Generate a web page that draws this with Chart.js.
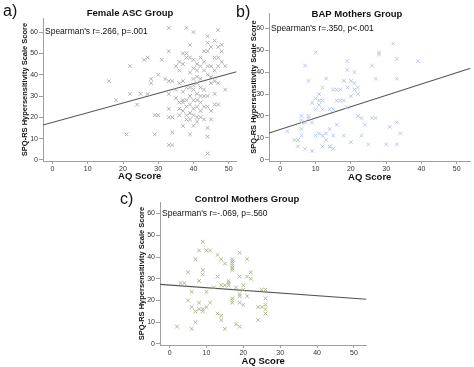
<!DOCTYPE html>
<html><head><meta charset="utf-8">
<script src="https://cdn.jsdelivr.net/npm/chart.js@4/dist/chart.umd.min.js"></script>
<style>
html,body{margin:0;padding:0;background:#fff;width:474px;height:367px;overflow:hidden}
canvas{position:absolute}
</style></head><body>
<canvas id="ca" width="240" height="186" style="left:0px;top:0px"></canvas>
<canvas id="cb" width="240" height="186" style="left:234px;top:0px"></canvas>
<canvas id="cc" width="260" height="181" style="left:110px;top:186px"></canvas>
<script>
// ---- data ----
const xTicks = [0, 10, 20, 30, 40, 50];
const yTicks = [0, 10, 20, 30, 40, 50, 60];

const ascAQ  = [16,18,22,21,22,24,25,26,27,27,28,28,29,29,30,30,31,33,33,32,33,33,33,34,33,34,34,34,33,36,36,36,36,36,37,37,37,37,37,37,37,38,38,38,38,38,38,38,38,39,39,39,39,39,39,39,39,39,40,40,40,40,40,40,40,40,40,41,41,41,41,41,41,41,41,41,42,42,42,42,42,42,42,42,43,43,43,43,43,43,43,44,44,44,44,44,44,44,44,44,44,45,45,45,45,45,45,46,46,46,46,46,46,47,47,47,47,47,47,48,48,48,49,49,35,35,35,36,37,40];
const ascSPQ = [37,28,31,12,44,26,31,47,48,31,38,36,12,21,21,40,47,62,51,38,37,24,20,20,7,7,37,13,31,46,42,27,24,21,50,37,32,28,27,23,16,62,50,48,34,28,25,21,19,54,48,41,34,30,26,22,19,12,60,47,43,38,33,28,24,21,16,45,42,39,36,31,28,25,20,18,48,44,38,34,30,27,23,20,51,46,42,33,30,25,19,58,55,51,44,40,30,25,15,11,3,53,44,39,36,23,19,56,48,42,37,31,26,61,53,48,44,36,26,54,51,46,44,33,44,33,29,36,45,35];

const bapAQ  = [2,4,5,5,6,6,6,6,6,7,7,7,8,8,8,9,9,9,10,10,10,10,11,11,11,11,12,12,12,12,12,13,13,13,14,14,14,14,15,15,15,15,16,16,16,17,17,18,18,18,19,19,19,19,20,20,20,21,21,21,22,22,22,23,23,24,25,26,26,27,27,28,28,30,31,32,33,33,33,33,34,39];
const bapSPQ = [13,9,9,6,11,18,17,14,20,5,43,17,19,36,20,4,26,17,49,11,28,23,27,30,25,12,33,6,23,11,27,37,9,12,6,14,23,6,32,11,5,23,27,16,32,32,27,11,36,27,41,24,33,45,36,8,29,40,32,35,30,20,33,19,11,16,7,43,19,19,37,48,49,7,15,53,17,46,37,7,12,45];

const ctlAQ  = [2,3,4,5,5,6,6,6,7,7,7,8,8,8,8,9,9,9,9,9,10,10,10,11,11,12,13,13,13,14,14,14,14,15,15,15,16,16,16,17,17,17,17,17,17,17,17,17,18,18,19,19,19,19,19,19,20,20,20,21,21,21,22,22,24,24,25,25,26,26,26,26,26];
const ctlSPQ = [8,28,28,20,33,7,24,17,10,15,39,43,16,19,29,16,32,34,15,47,24,43,17,19,43,26,41,14,31,39,13,27,11,27,7,37,28,27,29,39,38,37,36,35,34,21,20,19,9,26,31,8,42,23,22,19,25,27,18,39,22,31,33,30,11,17,17,25,25,18,16,14,21];

// regression line endpoints [x at left edge, x at right edge] / [y]
const ascLineX = [-2.7, 52.2], ascLineY = [16.4, 41.4];
const bapLineX = [-3.2, 53.9], bapLineY = [12.2, 41.8];
const ctlLineX = [-2.6, 53.4], ctlLineY = [27.4, 20.6];

const FONT = '"Liberation Sans", Arial, sans-serif';

const textPlugin = {
  id: 'panelText',
  afterDraw(chart, args, o) {
    const ctx = chart.ctx;
    ctx.save();
    ctx.fillStyle = '#111';
    ctx.textBaseline = 'middle';
    ctx.textAlign = 'left';
    ctx.font = '16px ' + FONT;
    ctx.fillText(o.letter, o.letterX, o.letterY);
    ctx.font = 'bold 9.5px ' + FONT;
    ctx.textAlign = 'center';
    ctx.fillText(o.title, o.titleX, o.titleY);
    ctx.font = '8.5px ' + FONT;
    ctx.textAlign = 'left';
    ctx.fillText(o.stat, chart.chartArea.left + 2, chart.scales.y.getPixelForValue(60));
    ctx.restore();
  }
};

function makePanel(id, xs, ys, lx, ly, color, p) {
  const pts = xs.map((v, i) => ({x: v, y: ys[i]}));
  const line = lx.map((v, i) => ({x: v, y: ly[i]}));
  const canvas = document.getElementById(id);
  return new Chart(canvas, {
    type: 'scatter',
    data: {
      datasets: [
        {data: pts, pointStyle: 'crossRot', pointRadius: 2.6, pointBorderWidth: 0.9,
         borderColor: color, backgroundColor: color, pointHoverRadius: 2.6},
        {type: 'line', data: line, borderColor: '#555', borderWidth: 1.1, pointRadius: 0,
         fill: false, tension: 0}
      ]
    },
    plugins: [textPlugin],
    options: {
      responsive: false, animation: false, devicePixelRatio: 1,
      events: [],
      layout: {padding: {left: p.padLeft, top: p.top, right: 0, bottom: p.padBottom}},
      plugins: {
        legend: {display: false}, tooltip: {enabled: false}, title: {display: false},
        panelText: p.text
      },
      scales: {
        x: {
          type: 'linear', min: p.xmin, max: p.xmax,
          afterBuildTicks: s => { s.ticks = xTicks.map(v => ({value: v})); },
          afterFit: s => { s.height = p.xh; },
          grid: {display: true, drawOnChartArea: false, drawTicks: true, tickLength: 3, color: '#a0a0a0'},
          border: {display: true, color: '#a0a0a0', width: 1},
          ticks: {font: {size: 7, family: FONT}, color: '#333', padding: 1, maxRotation: 0},
          title: {display: true, text: 'AQ Score', color: '#111',
                  font: {size: 9.5, weight: 'bold', family: FONT, lineHeight: 1.1}, padding: 0}
        },
        y: {
          type: 'linear', min: p.ymin, max: p.ymax,
          afterBuildTicks: s => { s.ticks = yTicks.map(v => ({value: v})); },
          afterFit: s => { s.width = p.yw; },
          grid: {display: true, drawOnChartArea: false, drawTicks: true, tickLength: 4, color: '#a0a0a0'},
          border: {display: true, color: '#a0a0a0', width: 1},
          ticks: {font: {size: 7, family: FONT}, color: '#333', padding: 1},
          title: {display: true, text: 'SPQ-RS Hypersensitivity Scale Score', color: '#111',
                  font: {size: 7.5, weight: 'bold', family: FONT, lineHeight: 1.1}, padding: 0}
        }
      }
    }
  });
}

makePanel('ca', ascAQ, ascSPQ, ascLineX, ascLineY, '#a8a8a8', {
  padLeft: 21, yw: 22, top: 18, padBottom: 4, xh: 21,
  xmin: -2.7, xmax: 52.2, ymin: -0.5, ymax: 66.6,
  text: {letter: 'a)', letterX: 3, letterY: 12, title: 'Female ASC Group', titleX: 130, titleY: 13,
         stat: "Spearman's r=.266, p=.001"}
});
makePanel('cb', bapAQ, bapSPQ, bapLineX, bapLineY, '#b2c2e6', {
  padLeft: 16, yw: 19, top: 13, padBottom: 3, xh: 22,
  xmin: -3.2, xmax: 53.9, ymin: -0.6, ymax: 67,
  text: {letter: 'b)', letterX: 2, letterY: 13, title: 'BAP Mothers Group', titleX: 123, titleY: 14,
         stat: "Spearman's r=.350, p<.001"}
});
makePanel('cc', ctlAQ, ctlSPQ, ctlLineX, ctlLineY, '#a5b585', {
  padLeft: 28, yw: 22, top: 16, padBottom: 0, xh: 22,
  xmin: -2.6, xmax: 53.4, ymin: -0.46, ymax: 65.3,
  text: {letter: 'c)', letterX: 10, letterY: 14, title: 'Control Mothers Group', titleX: 137, titleY: 13,
         stat: "Spearman's r=-.069, p=.560"}
});
</script>
</body></html>
